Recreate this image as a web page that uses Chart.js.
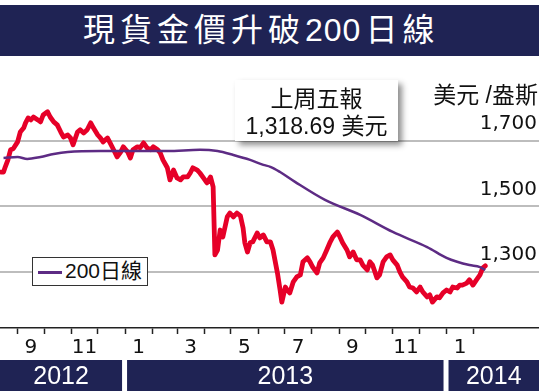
<!DOCTYPE html>
<html lang="zh-Hant">
<head>
<meta charset="UTF-8">
<title>現貨金價升破200日線</title>
<script src="https://cdn.jsdelivr.net/npm/chart.js"></script>
<style>
  html, body { margin: 0; padding: 0; background: #fff; }
  #wrap { position: relative; width: 539px; height: 392px; overflow: hidden;
          font-family: "Liberation Sans", "Noto Sans CJK TC", sans-serif; color: #111; }
  #chart { position: absolute; left: 0; top: 0; }
  .title { position: absolute; left: 0; top: 5px; width: 539px; height: 51px; box-sizing: border-box;
           padding-left: 83px; background: #1f2354; color: #fff; white-space: nowrap;
           font-family: "Liberation Sans", "Noto Sans CJK TC", sans-serif; font-size: 32px; line-height: 51px; letter-spacing: 5px; }
  .title span { letter-spacing: 1px; margin-right: 4px; }
  .note { position: absolute; left: 235px; top: 80px; width: 163px; height: 61px; box-sizing: border-box;
          padding-top: 6px; background: #fff; box-shadow: 4px 4px 6px rgba(0,0,0,0.45);
          text-align: center; font-size: 23px; line-height: 27px; }
  .unit { position: absolute; right: 1px; top: 81px; font-size: 23px; line-height: 28px; }
  .legend { position: absolute; left: 32px; top: 257px; width: 116px; height: 29px; box-sizing: border-box;
            border: 1.5px solid #333; background: #fff; font-size: 21px; line-height: 26px; white-space: nowrap; }
  .legend i { display: inline-block; width: 24px; height: 3px; background: #5d2b84; vertical-align: middle; margin: 0 3px 0 5px; }
</style>
</head>
<body>
<div id="wrap">
  <canvas id="chart" width="539" height="392"></canvas>
  <div class="title">現貨金價升破<span>200</span>日線</div>
  <div class="note">上周五報<br>1,318.69 美元</div>
  <div class="unit">美元 /盎斯</div>
  <div class="legend"><i></i>200日線</div>
</div>

<script>
// days counted from 2012-09-01
const days = [
  -19, -16, -14, -11, -8, -5, 0, 3, 7, 9,
  12, 15, 18, 23, 26, 29, 34, 37, 41, 45,
  49, 52, 57, 60, 63, 68, 71, 75, 79, 83,
  86, 91, 94, 97, 102, 105, 109, 113, 117, 120,
  125, 128, 131, 136, 139, 143, 147, 151, 154, 159,
  162, 165, 170, 173, 177, 181, 185, 188, 193, 196,
  199, 204, 207, 211, 215, 219, 222, 224, 227, 230,
  233, 238, 241, 245, 249, 253, 256, 258, 261, 264,
  267, 272, 275, 279, 283, 287, 290, 295, 298, 300,
  304, 306, 309, 313, 317, 321, 324, 329, 332, 335,
  340, 343, 347, 351, 355, 358, 363, 366, 369, 374,
  377, 381, 385, 389, 392, 397, 400, 403, 408, 411,
  415, 419, 423, 426, 431, 434, 437, 442, 445, 449,
  453, 457, 460, 465, 468, 471, 476, 479, 483, 487,
  491, 494, 499, 502, 505, 510, 513, 517, 521, 525,
  528, 531
];
const goldPrice = [
  1605, 1605, 1621, 1642, 1673, 1676, 1697, 1727, 1740, 1755,
  1770, 1764, 1773, 1764, 1758, 1779, 1789, 1773, 1758, 1749,
  1727, 1712, 1718, 1709, 1688, 1727, 1734, 1724, 1734, 1755,
  1740, 1718, 1709, 1697, 1709, 1694, 1673, 1651, 1666, 1682,
  1666, 1648, 1673, 1682, 1679, 1694, 1679, 1673, 1682, 1673,
  1663, 1642, 1618, 1581, 1611, 1587, 1581, 1590, 1590, 1602,
  1618, 1611, 1602, 1587, 1572, 1590, 1560, 1352, 1367, 1428,
  1407, 1468, 1480, 1468, 1480, 1471, 1434, 1389, 1361, 1389,
  1392, 1419, 1404, 1413, 1392, 1392, 1367, 1297, 1245, 1208,
  1254, 1245, 1236, 1270, 1285, 1291, 1331, 1343, 1331, 1315,
  1297, 1328, 1343, 1367, 1392, 1407, 1422, 1407, 1389, 1367,
  1346, 1361, 1337, 1337, 1321, 1306, 1331, 1321, 1282, 1291,
  1331, 1346, 1352, 1337, 1321, 1300, 1285, 1270, 1254, 1251,
  1239, 1254, 1239, 1224, 1230, 1208, 1224, 1221, 1236, 1245,
  1239, 1254, 1251, 1260, 1260, 1266, 1276, 1260, 1276, 1291,
  1312, 1318.69
];
const maDays = [-16, 0, 11, 26, 41, 57, 94, 131, 170, 207, 227, 245, 264, 279, 287, 298, 315, 349, 389, 426, 465, 487, 499, 513, 525, 531];
const ma200 = [1648, 1651, 1645, 1651, 1660, 1666, 1669, 1669, 1669, 1673, 1669, 1657, 1642, 1627, 1621, 1605, 1575, 1520, 1474, 1422, 1376, 1343, 1331, 1321, 1315, 1306];

const monthStarts = ['2012-09-01', '2012-10-01', '2012-11-01', '2012-12-01', '2013-01-01', '2013-02-01',
  '2013-03-01', '2013-04-01', '2013-05-01', '2013-06-01', '2013-07-01', '2013-08-01', '2013-09-01',
  '2013-10-01', '2013-11-01', '2013-12-01', '2014-01-01', '2014-02-01', '2014-03-01'];
const monthLabels = ['9', '', '11', '', '1', '', '3', '', '5', '', '7', '', '9', '', '11', '', '1', ''];
const years = ['2012', '2013', '2014'];
const yearStarts = ['2013-01-01', '2014-01-01'];
const yTicks = [1300, 1500, 1700];

const dayOf = s => {
  const [y, m, d] = s.split('-').map(Number);
  return (Date.UTC(y, m - 1, d) - Date.UTC(2012, 8, 1)) / 864e5;
};

// month-start tick marks plus unmarked mid-month ticks that carry the labels
const xTicks = [];
monthLabels.forEach((lab, i) => {
  const a = dayOf(monthStarts[i]);
  xTicks.push({ value: a, txt: '' });
  if (lab) xTicks.push({ value: (a + dayOf(monthStarts[i + 1])) / 2, txt: lab, mid: true });
});

const NAVY = '#1f2354';

const yearBands = {
  id: 'yearBands',
  afterDraw(chart) {
    const { ctx } = chart;
    const xs = chart.scales.x;
    const edges = [0, ...yearStarts.map(d => xs.getPixelForValue(dayOf(d))), chart.width];
    ctx.save();
    ctx.font = '25px "Liberation Sans"';
    ctx.textAlign = 'center';
    ctx.textBaseline = 'middle';
    years.forEach((yr, i) => {
      const l = i === 0 ? 0 : edges[i] + 2;
      const r = i === years.length - 1 ? chart.width : edges[i + 1] - 3;
      ctx.fillStyle = NAVY;
      ctx.fillRect(l, 360, r - l, 31);
      ctx.fillStyle = '#fff';
      ctx.fillText(yr, (l + r) / 2, 377);
    });
    ctx.restore();
  }
};

new Chart(document.getElementById('chart'), {
  type: 'line',
  data: {
    datasets: [
      {
        label: '200日線',
        data: maDays.map((d, i) => ({ x: d, y: ma200[i] })),
        borderColor: '#5d2b84',
        borderWidth: 2.5,
        pointRadius: 0,
        cubicInterpolationMode: 'monotone'
      },
      {
        label: '現貨金價',
        data: days.map((d, i) => ({ x: d, y: goldPrice[i] })),
        borderColor: '#e60028',
        borderWidth: 4.8,
        borderJoinStyle: 'round',
        borderCapStyle: 'round',
        pointRadius: 0,
        tension: 0
      }
    ]
  },
  options: {
    responsive: false,
    animation: false,
    layout: { padding: { top: 58 } },
    plugins: { legend: { display: false }, tooltip: { enabled: false } },
    scales: {
      x: {
        type: 'linear',
        bounds: 'data',
        min: dayOf('2012-08-12'),
        max: dayOf('2014-04-16'),
        afterBuildTicks: s => { s.ticks = xTicks.map(t => ({ ...t })); },
        afterFit: s => { s.height = 64; },
        grid: {
          drawOnChartArea: false,
          tickLength: 6,
          tickWidth: 1.5,
          tickColor: c => (c.tick && c.tick.mid) ? 'rgba(0,0,0,0)' : '#222'
        },
        border: { display: true, color: '#222', width: 1.5 },
        ticks: {
          autoSkip: false,
          maxRotation: 0,
          padding: 2,
          color: '#111',
          font: { family: 'DejaVu Sans', size: 20 },
          callback: (v, i, t) => t[i].txt
        }
      },
      y: {
        position: 'right',
        bounds: 'data',
        min: 1129,
        max: 1953,
        afterBuildTicks: s => { s.ticks = yTicks.map(v => ({ value: v })); },
        afterFit: s => { s.width = 0; },
        grid: { drawTicks: false, color: '#bdbdbd', lineWidth: 2 },
        border: { display: false },
        ticks: {
          mirror: true,
          padding: -2,
          labelOffset: -17,
          color: '#111',
          font: { family: 'DejaVu Sans', size: 20 },
          callback: v => v.toLocaleString('en-US')
        }
      }
    }
  },
  plugins: [yearBands]
});
</script>
</body>
</html>
